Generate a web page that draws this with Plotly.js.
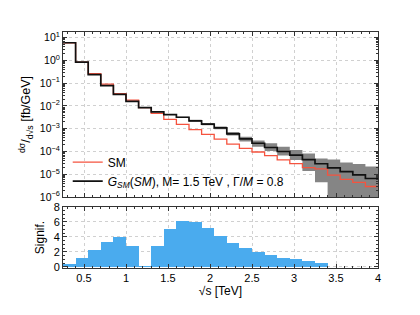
<!DOCTYPE html>
<html>
<head>
<meta charset="utf-8">
<script src="https://cdn.plot.ly/plotly-3.0.1.min.js"></script>
<style>html,body{margin:0;padding:0;background:#fff;}#plot{width:420px;height:315px;}</style>
</head>
<body>
<div id="plot"></div>
<script>
// Bin edges of sqrt(s) [TeV]
var binEdges = [0.25,0.40,0.55,0.70,0.85,1.00,1.15,1.30,1.45,1.60,1.75,1.90,2.05,2.20,2.35,2.50,2.65,2.80,2.95,3.10,3.25,3.40,3.55,3.70,3.85,4.00];
var binCenters = [0.325,0.475,0.625,0.775,0.925,1.075,1.225,1.375,1.525,1.675,1.825,1.975,2.125,2.275,2.425,2.575,2.725,2.875,3.025,3.175,3.325,3.475,3.625,3.775,3.925];

// dsigma/dsqrt(s) [fb/GeV]
var smValues = [6.0,0.85,0.26,0.091,0.035,0.018,0.0085,0.0047,0.0026,0.00155,0.00091,0.00056,0.00035,0.00021,0.000138,9.5e-5,6.6e-5,4.3e-5,2.95e-5,1.95e-5,1.74e-5,9.1e-6,6.0e-6,4.4e-6,2.9e-6];
var gsmValues = [6.0,0.85,0.24,0.079,0.032,0.016,0.0085,0.0055,0.0042,0.0032,0.0022,0.0016,0.0011,0.0006,0.00036,0.00023,0.00015,0.0001,6.9e-5,4.4e-5,2.9e-5,1.9e-5,1.3e-5,9.3e-6,6.5e-6];
var gsmUpper = [6.1,0.86,0.243,0.080,0.0324,0.0162,0.0086,0.00575,0.00437,0.00339,0.00245,0.00178,0.00126,0.000724,0.000447,0.000302,0.000229,0.000162,0.000115,8.1e-5,4.9e-5,4.4e-5,3.3e-5,2.8e-5,2.2e-5];
var gsmLower = [5.9,0.84,0.237,0.078,0.0316,0.0158,0.0084,0.00525,0.00398,0.00295,0.00204,0.00141,0.000955,0.0005,0.000275,0.000162,0.000105,6.6e-5,4.2e-5,1.4e-5,4.4e-6,1e-9,1e-9,1e-9,1e-9];

// Significance
var signif = [0.45,1.15,2.2,3.3,4.05,2.85,0.1,2.75,5.1,6.15,6.0,5.2,4.1,3.25,2.5,2.0,1.55,1.25,1.0,0.75,0.58,0,0,0,0];

var xTickVals = [0.5,1,1.5,2,2.5,3,3.5,4];
var xTickText = ['0.5','1','1.5','2','2.5','3','3.5','4'];
var yTickVals = [10,1,0.1,0.01,0.001,0.0001,0.00001,0.000001];
var yTickText = ['10<sup>1</sup>','10<sup>0</sup>','10<sup>−1</sup>','10<sup>−2</sup>','10<sup>−3</sup>','10<sup>−4</sup>','10<sup>−5</sup>','10<sup>−6</sup>'];

function stepY(a){ return a.concat([a[a.length-1]]); }

var traces = [
  {x: binEdges, y: stepY(gsmUpper), xaxis:'x2', yaxis:'y2', type:'scatter', mode:'lines',
   line:{shape:'hv', width:0, color:'rgba(0,0,0,0)'}, showlegend:false, hoverinfo:'skip'},
  {x: binEdges, y: stepY(gsmLower), xaxis:'x2', yaxis:'y2', type:'scatter', mode:'lines',
   line:{shape:'hv', width:0, color:'rgba(0,0,0,0)'}, fill:'tonexty', fillcolor:'#858585', showlegend:false, hoverinfo:'skip'},
  {x: binEdges, y: stepY(smValues), xaxis:'x2', yaxis:'y2', type:'scatter', mode:'lines',
   line:{shape:'hv', width:1.3, color:'#f5533f'}, name:'SM'},
  {x: binEdges, y: stepY(gsmValues), xaxis:'x2', yaxis:'y2', type:'scatter', mode:'lines',
   line:{shape:'hv', width:1.7, color:'#111111'}, name:'<i>G<sub>SM</sub></i>(<i>SM</i>), M= 1.5 TeV , Γ/<i>M</i> = 0.8'},
  {x: binCenters, y: signif, xaxis:'x', yaxis:'y', type:'bar', width:0.15,
   marker:{color:'#4aabee', line:{width:0}}, showlegend:false}
];

var axFont = {family:'Liberation Sans, Arial, sans-serif', size:11, color:'#000'};
var common = {
  showline:true, linecolor:'#333', linewidth:1, mirror:'ticks',
  ticks:'inside', ticklen:4, tickcolor:'#333',
  showgrid:true, gridcolor:'#d0d0d0', griddash:'dot', gridwidth:1,
  zeroline:false, tickfont:axFont
};

var layout = {
  width:420, height:315,
  margin:{l:63, r:42, t:32, b:47},
  paper_bgcolor:'#fff', plot_bgcolor:'#fff',
  font:{family:'Liberation Sans, Arial, sans-serif', size:11, color:'#000'},
  bargap:0,
  showlegend:true,
  legend:{x:0.015, y:0.51, xanchor:'left', yanchor:'top', bgcolor:'rgba(0,0,0,0)', traceorder:'normal',
          font:{size:12, family:'Liberation Sans, Arial, sans-serif'}, tracegroupgap:0, itemwidth:30},
  xaxis: Object.assign({}, common, {
    domain:[0,1], anchor:'y', range:[0.25,4.0],
    tickvals:xTickVals, ticktext:xTickText,
    minor:{ticks:'inside', ticklen:2, dtick:0.1, tick0:0, tickcolor:'#333', showgrid:false},
    title:{text:'√s [TeV]', font:{size:12}, standoff:0}
  }),
  yaxis: Object.assign({}, common, {
    domain:[0,0.2585], anchor:'x', range:[-0.15,8],
    tickvals:[0,2,4,6,8], ticktext:['0','2','4','6','8'],
    minor:{ticks:'inside', ticklen:2, dtick:0.5, tickcolor:'#333', showgrid:false},
    title:{text:'Signif.', font:{size:12}, standoff:6}
  }),
  xaxis2: Object.assign({}, common, {
    domain:[0,1], anchor:'y2', range:[0.25,4.0], matches:'x',
    tickvals:xTickVals, showticklabels:false,
    minor:{ticks:'inside', ticklen:2, dtick:0.1, tick0:0, tickcolor:'#333', showgrid:false}
  }),
  yaxis2: Object.assign({}, common, {
    domain:[0.3008,1], anchor:'x2', type:'log', range:[-6.0,1.25],
    tickvals:yTickVals, ticktext:yTickText,
    tickfont:{family:'Liberation Sans, Arial, sans-serif', size:10.5, color:'#000'},
    minor:{ticks:'inside', ticklen:2, dtick:'D1', tickcolor:'#333', showgrid:false},
    title:{text:'<sup>dσ</sup>/<sub>d√s</sub> [fb/GeV]', font:{size:12.5}, standoff:6}
  })
};

Plotly.newPlot('plot', traces, layout, {staticPlot:true, displayModeBar:false});
</script>
</body>
</html>
